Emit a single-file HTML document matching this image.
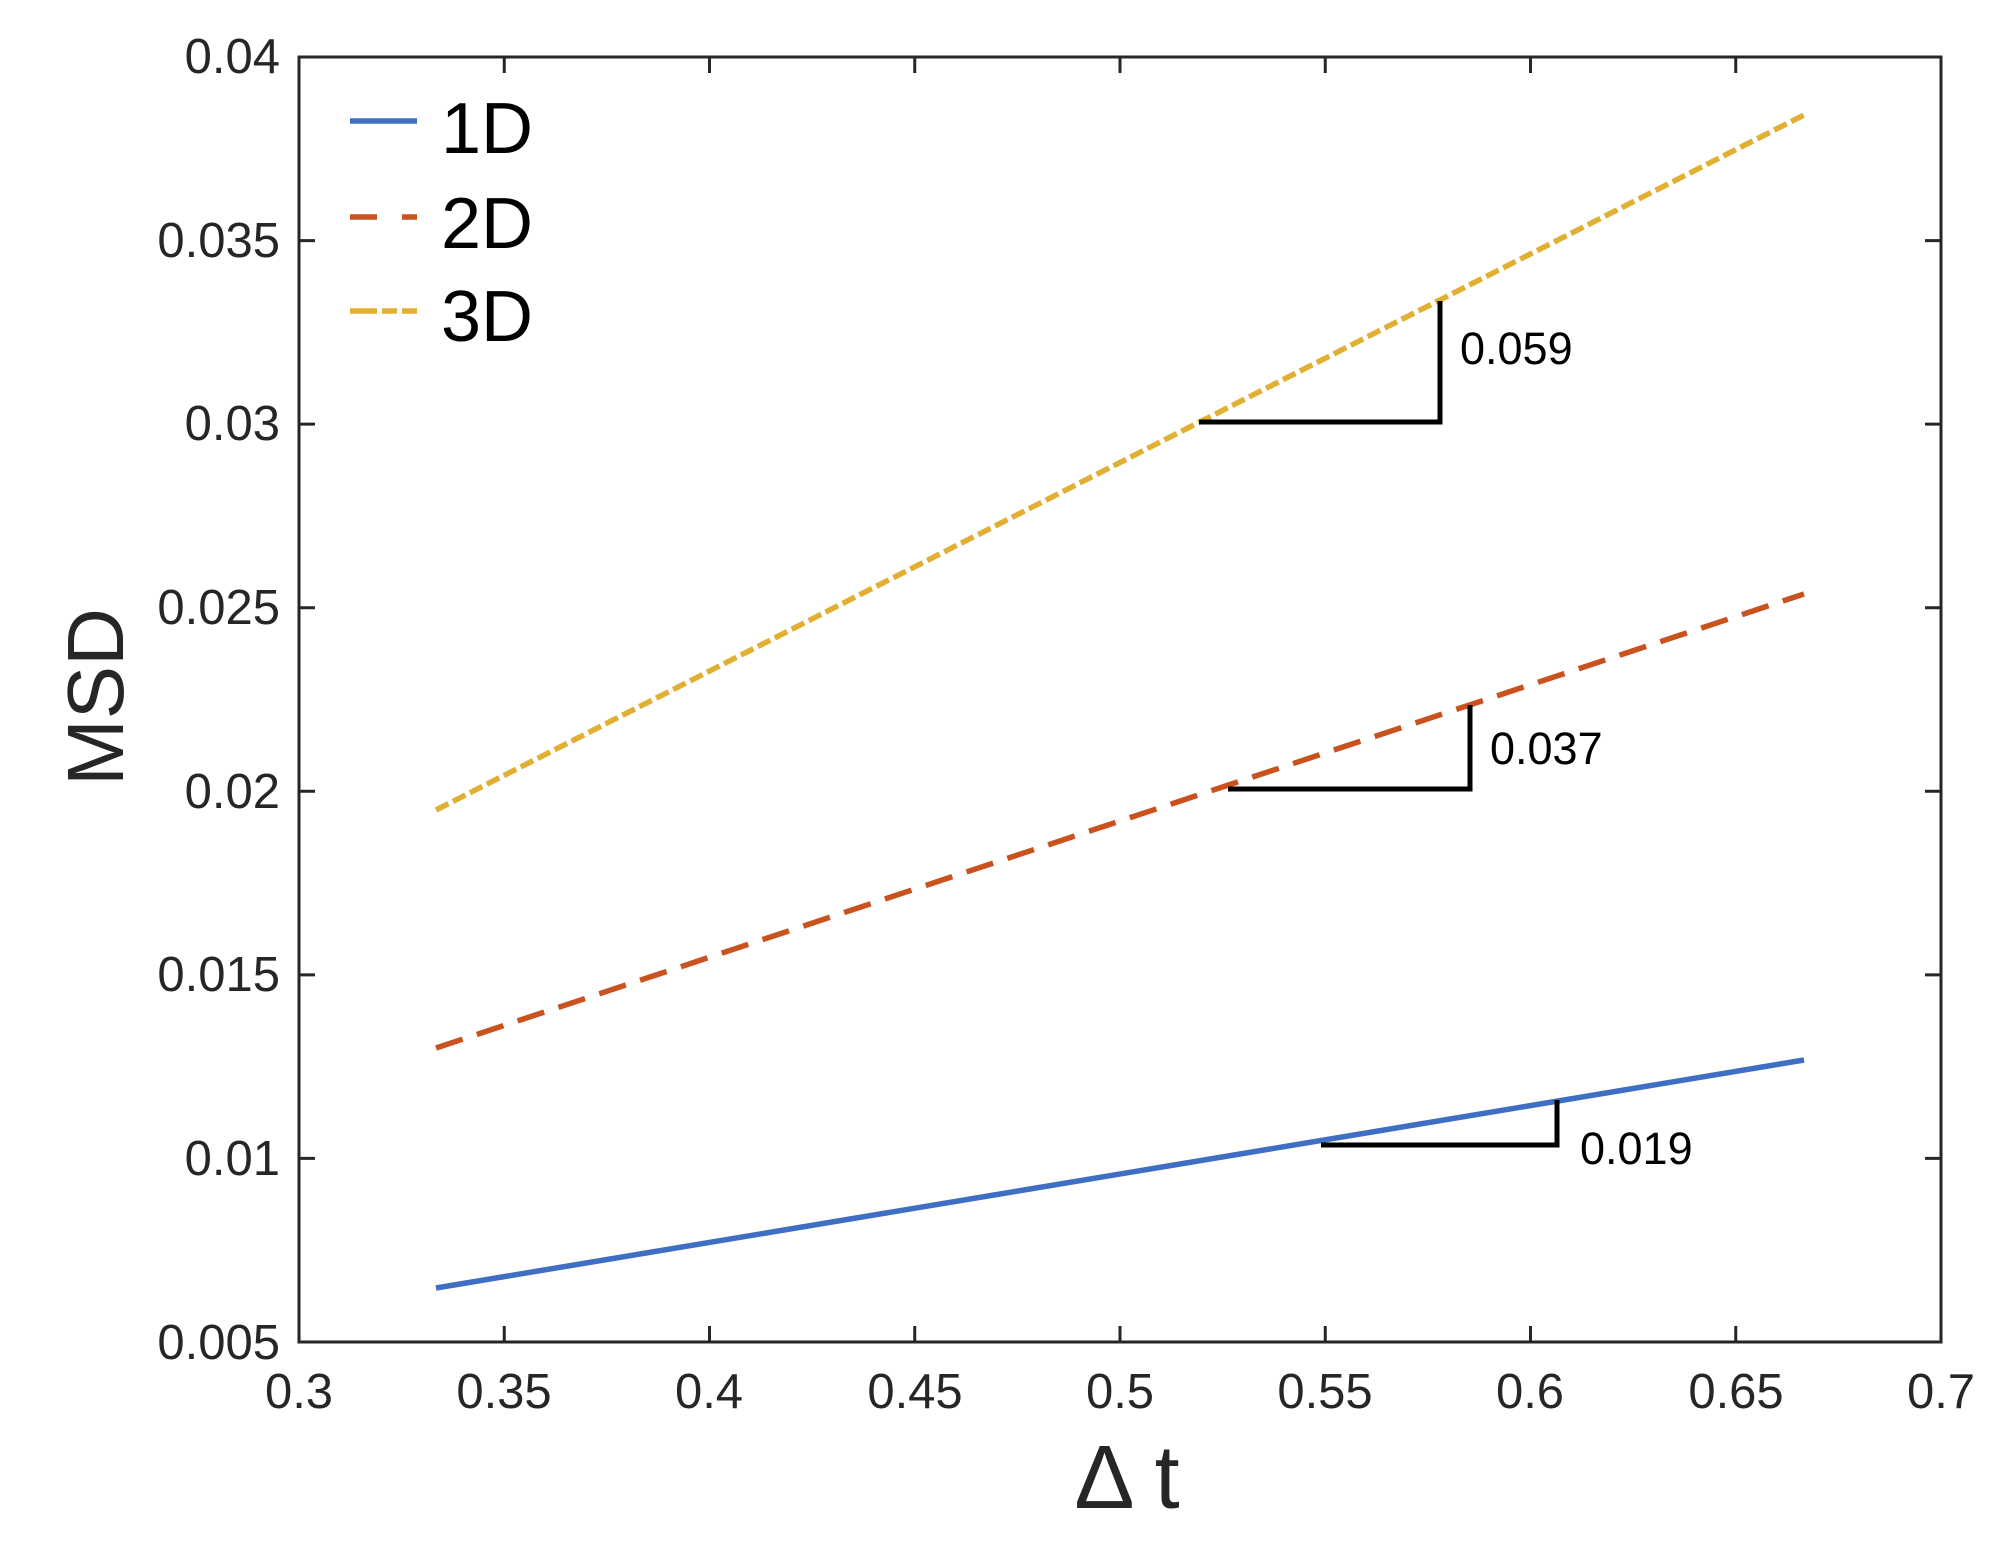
<!DOCTYPE html>
<html><head><meta charset="utf-8"><style>
html,body{margin:0;padding:0;background:#fff;}
svg{display:block;}
text{font-family:"Liberation Sans",sans-serif;}
</style></head><body>
<svg width="2009" height="1554" viewBox="0 0 2009 1554" xmlns="http://www.w3.org/2000/svg">
<rect width="2009" height="1554" fill="#fff"/>
<g stroke="#262626" stroke-width="3" fill="none">
<rect x="299" y="57" width="1642" height="1285"/>
<path d="M504.25 1342v-16M709.5 1342v-16M914.75 1342v-16M1120 1342v-16M1325.25 1342v-16M1530.5 1342v-16M1735.75 1342v-16
M504.25 57v16M709.5 57v16M914.75 57v16M1120 57v16M1325.25 57v16M1530.5 57v16M1735.75 57v16"/>
<path d="M299 240.6h16M299 424.1h16M299 607.7h16M299 791.3h16M299 974.9h16M299 1158.4h16
M1941 240.6h-16M1941 424.1h-16M1941 607.7h-16M1941 791.3h-16M1941 974.9h-16M1941 1158.4h-16"/>
</g>
<g fill="#262626" font-size="49" text-anchor="end">
<text x="280" y="73">0.04</text>
<text x="280" y="257">0.035</text>
<text x="280" y="440">0.03</text>
<text x="280" y="624">0.025</text>
<text x="280" y="808">0.02</text>
<text x="280" y="991">0.015</text>
<text x="280" y="1175">0.01</text>
<text x="280" y="1359">0.005</text>
</g>
<g fill="#262626" font-size="49" text-anchor="middle">
<text x="299" y="1408">0.3</text>
<text x="504" y="1408">0.35</text>
<text x="709" y="1408">0.4</text>
<text x="915" y="1408">0.45</text>
<text x="1120" y="1408">0.5</text>
<text x="1325" y="1408">0.55</text>
<text x="1530" y="1408">0.6</text>
<text x="1736" y="1408">0.65</text>
<text x="1941" y="1408">0.7</text>
</g>
<text x="1127" y="1508" font-size="90" text-anchor="middle" fill="#262626">Δ t</text>
<text transform="translate(123,697) rotate(-90)" font-size="80" text-anchor="middle" fill="#262626">MSD</text>
<line x1="436" y1="1288" x2="1804" y2="1060" stroke="#3E6FC4" stroke-width="5.5"/>
<line x1="436" y1="1048" x2="1804" y2="594" stroke="#C9521E" stroke-width="5.5" stroke-dasharray="28 15"/>
<line x1="436" y1="810" x2="1804" y2="115" stroke="#E1B032" stroke-width="5.5" stroke-dasharray="14 5"/>
<g stroke="#000" stroke-width="5" fill="none">
<path d="M1199 422H1440V301"/>
<path d="M1228 789H1470V705"/>
<path d="M1321 1145H1557V1100"/>
</g>
<g font-size="45" fill="#000">
<text x="1460" y="364">0.059</text>
<text x="1490" y="764">0.037</text>
<text x="1580" y="1164">0.019</text>
</g>
<line x1="350" y1="121" x2="417" y2="121" stroke="#3E6FC4" stroke-width="5.5"/>
<line x1="350" y1="217" x2="417" y2="217" stroke="#C9521E" stroke-width="5.5" stroke-dasharray="27 25"/>
<line x1="350" y1="311" x2="417" y2="311" stroke="#E1B032" stroke-width="5.5" stroke-dasharray="27 5 15 5"/>
<g font-size="72" fill="#000">
<text x="441" y="153">1D</text>
<text x="441" y="248">2D</text>
<text x="441" y="341">3D</text>
</g>
</svg>
</body></html>
